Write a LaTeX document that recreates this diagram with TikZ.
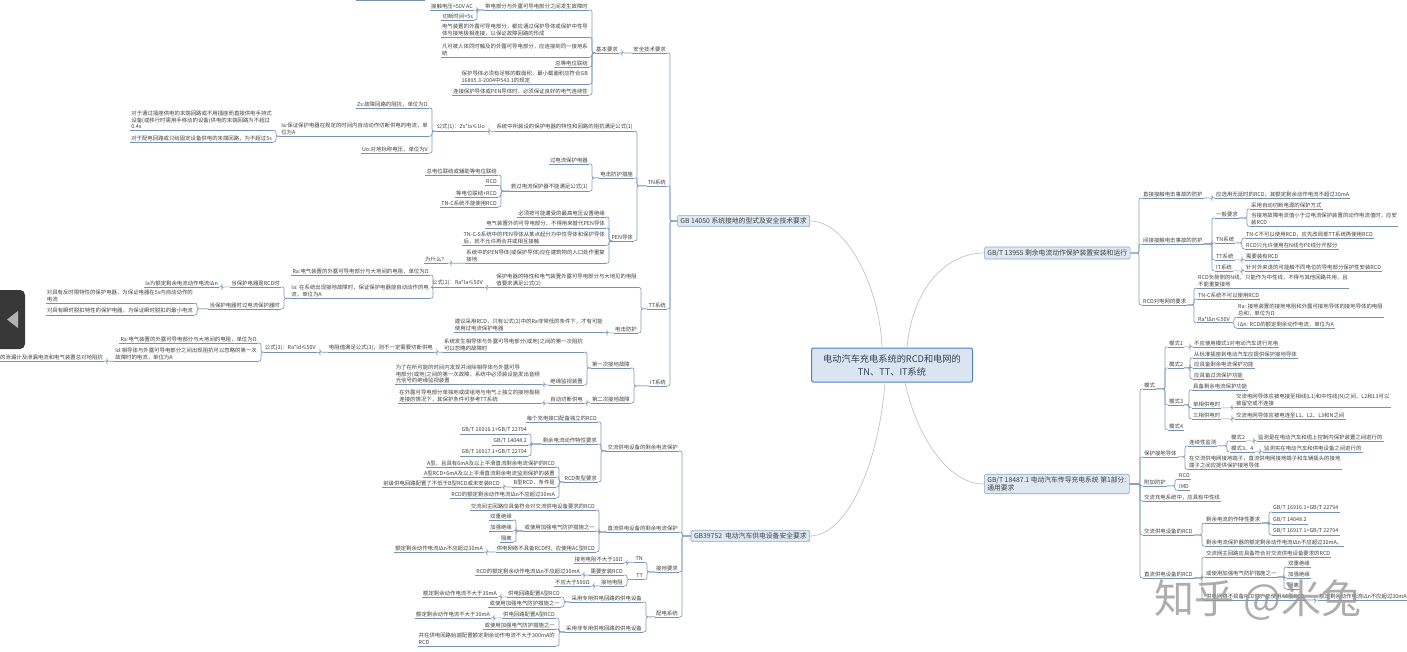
\documentclass[tikz,border=0pt]{standalone}
\usepackage{fontspec}
\setmainfont{Noto Sans CJK SC}
\definecolor{txt}{RGB}{64,64,64}
\definecolor{ul}{RGB}{118,146,176}
\definecolor{cn}{RGB}{130,156,186}
\definecolor{ccur}{RGB}{196,196,196}
\definecolor{bfill}{RGB}{222,231,242}
\definecolor{bdraw}{RGB}{140,170,205}
\definecolor{cfill}{RGB}{219,229,241}
\definecolor{cdraw}{RGB}{79,129,189}
\newcommand\lff{\fontsize{5.4}{6.6}\selectfont}
\tikzset{
  uline/.style={draw=ul,line width=0.7pt},
  lf/.style={font=\lff,text=txt,inner xsep=1pt,inner ysep=1.2pt,align=left,
    append after command={(\tikzlastnode.south west) edge[uline] (\tikzlastnode.south east)}},
  conn/.style={draw=cn,line width=0.7pt,rounded corners=2pt},
  ccurve/.style={draw=ccur,line width=0.7pt},
  mbox/.style={draw=bdraw,fill=bfill,line width=0.6pt,rounded corners=1.5pt,
    font=\fontsize{6.8}{8.2}\selectfont,text=txt,inner xsep=3pt,inner ysep=2.5pt},
  cbox/.style={draw=cdraw,fill=cfill,line width=1pt,rounded corners=2pt,
    font=\fontsize{9.2}{13}\selectfont,text={rgb,255:red,50;green,64;blue,88},align=center,
    minimum width=161pt,minimum height=34pt}
}
\newcommand\Ln[4]{\node[lf,anchor=east] (#1) at (#2,#3) {#4};}
\newcommand\Rn[4]{\node[lf,anchor=west] (#1) at (#2,#3) {#4};}
\newcommand\LL[2]{\foreach \nn in {#2}{\draw[conn] (#1) -| ([xshift=3pt]\nn.south east) -- (\nn.south east);}}
\newcommand\RR[2]{\foreach \nn in {#2}{\draw[conn] (#1) -| ([xshift=-3pt]\nn.south west) -- (\nn.south west);}}
\begin{document}
\begin{tikzpicture}[x=1pt,y=-1pt]
\useasboundingbox (0,0) rectangle (1407,651);
\clip (0,0) rectangle (1407,651);
\fill[white] (0,0) rectangle (1407,651);

% central
\node[cbox] (c0) at (892,365) {电动汽车充电系统的RCD和电网的\\TN、TT、IT系统};
\node[mbox,anchor=east] (g1) at (810,221) {GB 14050 系统接地的型式及安全技术要求};
\node[mbox,anchor=east] (g2) at (810,536) {GB39752\ \ 电动汽车供电设备安全要求};
\node[mbox,anchor=west] (g3) at (984,253) {GB/T 13955 剩余电流动作保护装置安装和运行};
\node[mbox,anchor=west,align=left] (g4) at (984,484) {GB/T 18487.1 电动汽车传导充电系统 第1部分:\\通用要求};
\draw[ccurve] ([xshift=-10pt]c0.north) .. controls (880,290) and (848,221) .. (g1.east);
\draw[ccurve] ([xshift=15pt]c0.north) .. controls (912,290) and (945,253) .. (g3.west);
\draw[ccurve] ([xshift=-7pt]c0.south) .. controls (878,470) and (845,536) .. (g2.east);
\draw[ccurve] ([xshift=13pt]c0.south) .. controls (915,430) and (945,484) .. (g4.west);

% ===== GB 14050 =====
\Ln{a1}{667}{49}{安全技术要求}
\Ln{a2}{667}{182}{TN系统}
\Ln{a3}{667}{305}{TT系统}
\Ln{a4}{667}{382}{IT系统}
\LL{g1.west}{a1,a2,a3,a4}
\Ln{a1a}{619}{49}{基本要求}
\LL{a1.south west}{a1a}
\Ln{b1}{589}{6}{带电部分与外露可导电部分之间发生故障时}
\Ln{b2}{589}{30}{电气装置的外露可导电部分，都应通过保护导体或保护中性导\\体与接地极相连接，以保证故障回路的形成}
\Ln{b3}{589}{50}{凡可被人体同时触及的外露可导电部分，应连接到同一接地系\\统}
\Ln{b4}{589}{63}{总等电位联结}
\Ln{b5}{589}{77}{保护导体必须有足够的截面积，最小截面积应符合GB\\16895.3-2004中543.1的规定}
\Ln{b6}{589}{91}{连接保护导体或PEN导体时，必须保证良好的电气连续性}
\LL{a1a.south west}{b1,b2,b3,b4,b5,b6}
\Ln{b1a}{474}{6}{接触电压<50V AC}
\Ln{b1b}{474}{16}{切断时间<5s}
\LL{b1.south west}{b1a,b1b}
\coordinate (tp) at (425,0.8);
\draw[uline] (356,0.8) -- (tp);

\Ln{c1}{634}{127}{系统中所装设的保护电器的特性和回路的阻抗满足公式(1)}
\Ln{c2}{634}{174}{电击防护措施}
\Ln{c3}{634}{237}{PEN导体}
\LL{a2.south west}{c1,c2,c3}
\Ln{c1a}{486}{127}{公式(1)：Zs*Ia≤Uo}
\LL{c1.south west}{c1a}
\Ln{c1a1}{429}{104}{Zs:故障回路的阻抗，单位为Ω}
\Ln{c1a2}{429}{129}{Ia:保证保护电器在规定的时间内自动动作切断供电的电流，单\\位为A}
\Ln{c1a3}{429}{149}{Uo:对地标称电压，单位为V}
\LL{c1a.south west}{c1a1,c1a2,c1a3}
\Ln{c1a2a}{273}{120}{对于通过插座供电的末端回路或不用插座而直接供电手持式\\设备(或移行时需用手移动的设备)供电的末端回路为不超过\\0.4s}
\Ln{c1a2b}{273}{138}{对于配电回路或只给固定设备供电的末端回路，为不超过5s}
\LL{c1a2.south west}{c1a2a,c1a2b}
\Ln{c2a}{589}{160}{过电流保护电器}
\Ln{c2b}{589}{187}{若过电流保护器不能满足公式(1)}
\LL{c2.south west}{c2a,c2b}
\Ln{c2b1}{498}{171}{总电位联结或辅助等电位联结}
\Ln{c2b2}{498}{182}{RCD}
\Ln{c2b3}{498}{193}{等电位联结+RCD}
\Ln{c2b4}{498}{203}{TN-C系统不能使用RCD}
\LL{c2b.south west}{c2b1,c2b2,c2b3,c2b4}
\Ln{c3a}{606}{213}{必须按可能遭受的最高电压设置绝缘}
\Ln{c3b}{606}{224}{电气装置外的可导电部分，不得用来替代PEN导体}
\Ln{c3c}{606}{238}{TN-C-S系统中的PEN导体从某点起分为中性导体和保护导体\\后，就不允许再合并或相互接触}
\Ln{c3d}{606}{256}{系统中的PEN导体(或保护导体)应在建筑物的入口处作重复\\接地}
\LL{c3.south west}{c3a,c3b,c3c,c3d}
\Ln{c3d1}{448}{259}{为什么？}
\LL{c3d.south west}{c3d1}

\Ln{d1}{638}{280}{保护电器的特性和电气装置外露可导电部分与大地见的电阻\\值要求满足公式(2)}
\Ln{d2}{638}{329}{电击防护}
\LL{a3.south west}{d1,d2}
\Ln{d1a}{484}{283}{公式(2)：Ra*Ia≤50V}
\LL{d1.south west}{d1a}
\Ln{d1a1}{430}{271}{Ra:电气装置的外露可导电部分与大地间的电阻，单位为Ω}
\Ln{d1a2}{430}{291}{Ia: 在系统出现接地故障时，保证保护电器能自动动作的电\\流，单位为A}
\LL{d1a.south west}{d1a1,d1a2}
\Ln{d1a2a}{281}{283}{当保护电器是RCD时}
\Ln{d1a2b}{281}{305}{当保护电器时过电流保护器时}
\LL{d1a2.south west}{d1a2a,d1a2b}
\Ln{d1a2a1}{219}{283}{Ia为额定剩余电流动作电流IΔn}
\LL{d1a2a.south west}{d1a2a1}
\Ln{d1a2b1}{194}{296}{对具有反时限特性的保护电器，为保证电器在5s内自动动作的\\电流}
\Ln{d1a2b2}{194}{311}{对具有瞬时脱扣特性的保护电器，为保证瞬时脱扣的最小电流}
\LL{d1a2b.south west}{d1a2b1,d1a2b2}
\Ln{d2a}{604}{325}{建议采用RCD，只有公式(2)中的Ra非常低的条件下，才有可能\\使用过电流保护电器}
\LL{d2.south west}{d2a}

\Ln{e1}{631}{364}{第一次接地故障}
\Ln{e2}{631}{399}{第二次接地故障}
\LL{a4.south west}{e1,e2}
\Ln{e1a}{584}{345}{系统发生相导体与外露可导电部分(或地)之间的第一次阻抗\\可以忽略的故障时}
\Ln{e1b}{584}{381}{绝缘监视装置}
\LL{e1.south west}{e1a,e1b}
\Ln{e1a1}{434}{348}{电阻值满足公式(3)，则不一定需要切断供电}
\LL{e1a.south west}{e1a1}
\Ln{e1a1a}{317}{348}{公式(3)：Ra*Id≤50V}
\LL{e1a1.south west}{e1a1a}
\Ln{e1a1a1}{258}{339}{Ra:电气装置的外露可导电部分与大地间的电阻，单位为Ω}
\Ln{e1a1a2}{258}{354}{Id:相导体与外露可导电部分之间出现阻抗可以忽略的第一次\\故障时的电流，单位为A}
\LL{e1a1a.south west}{e1a1a1,e1a1a2}
\Ln{e1a1a2a}{104}{357}{Id的泄漏计及泄漏电流和电气装置总对地阻抗}
\LL{e1a1a2.south west}{e1a1a2a}
\Ln{e1b1}{541}{374}{为了在所可能的时间内发现并消除相导体与外露可导\\电部分(或地)之间的第一次故障，系统中必须装设能发出音频\\光信号的绝缘监视装置}
\LL{e1b.south west}{e1b1}
\Ln{e2a}{584}{399}{自动切断供电}
\LL{e2.south west}{e2a}
\Ln{e2a1}{541}{396}{在外露可导电部分单独地或成组地与电气上独立的接地极相\\连接的情况下，其保护条件可参考TT系统}
\LL{e2a.south west}{e2a1}

% ===== GB39752 =====
\Ln{f1}{679}{447}{交流供电设备的剩余电流保护}
\Ln{f2}{679}{528}{直流供电设备的剩余电流保护}
\Ln{f3}{679}{568}{接地要求}
\Ln{f4}{679}{613}{配电系统}
\LL{g2.west}{f1,f2,f3,f4}
\Ln{f1a}{598}{418}{每个充电接口配备独立的RCD}
\Ln{f1b}{598}{440}{剩余电流动作特性要求}
\Ln{f1c}{598}{478}{RCD类型要求}
\LL{f1.south west}{f1a,f1b,f1c}
\Ln{f1b1}{528}{430}{GB/T 16916.1+GB/T 22794}
\Ln{f1b2}{528}{441}{GB/T 14048.2}
\Ln{f1b3}{528}{452}{GB/T 16917.1+GB/T 22794}
\LL{f1b.south west}{f1b1,f1b2,f1b3}
\Ln{f1c1}{556}{463}{A型，且具有6mA及以上平滑直流剩余电流保护的RCD}
\Ln{f1c2}{556}{473}{A型RCD+6mA及以上平滑直流剩余电流监测保护的装置}
\Ln{f1c3}{556}{483}{B型RCD，条件是}
\Ln{f1c4}{556}{494}{RCD的额定剩余动作电流IΔn不应超过30mA}
\LL{f1c.south west}{f1c1,f1c2,f1c3,f1c4}
\Ln{f1c3a}{501}{483}{前级供电回路配置了不低于B型RCD或未安装RCD}
\LL{f1c3.south west}{f1c3a}
\Ln{f2a}{596}{506}{交流间主回路应具备符合对交流供电设备要求的RCD}
\Ln{f2b}{596}{527}{或使用加强电气防护措施之一}
\Ln{f2c}{596}{548}{供电网络不具备RCD时，应使用AC型RCD}
\LL{f2.south west}{f2a,f2b,f2c}
\Ln{f2b1}{513}{516}{双重绝缘}
\Ln{f2b2}{513}{527}{加强绝缘}
\Ln{f2b3}{513}{538}{隔离}
\LL{f2b.south west}{f2b1,f2b2,f2b3}
\Ln{f2c1}{484}{548}{额定剩余动作电流IΔn不应超过30mA}
\LL{f2c.south west}{f2c1}
\Ln{f3a}{644}{559}{TN}
\Ln{f3b}{644}{576}{TT}
\LL{f3.south west}{f3a,f3b}
\Ln{f3a1}{624}{559}{接地电阻不大于10Ω}
\LL{f3a.south west}{f3a1}
\Ln{f3b1}{624}{571}{需要安装RCD}
\Ln{f3b2}{624}{582}{接地电阻}
\LL{f3b.south west}{f3b1,f3b2}
\Ln{f3b1a}{581}{571}{RCD的额定剩余动作电流IΔn不应超过30mA}
\LL{f3b1.south west}{f3b1a}
\Ln{f3b2a}{591}{582}{不应大于500Ω}
\LL{f3b2.south west}{f3b2a}
\Ln{f4a}{643}{598}{采用专用供电回路的供电设备}
\Ln{f4b}{643}{628}{采用非专用供电回路的供电设备}
\LL{f4.south west}{f4a,f4b}
\Ln{f4a1}{561}{593}{供电回路配置A型RCD}
\Ln{f4a2}{561}{603}{或使用加强电气防护措施之一}
\LL{f4a.south west}{f4a1,f4a2}
\Ln{f4a1a}{498}{593}{额定剩余动作电流不大于30mA}
\LL{f4a1.south west}{f4a1a}
\Ln{f4b1}{556}{614}{供电回路配置A型RCD}
\Ln{f4b2}{556}{625}{或使用加强电气防护措施之一}
\Ln{f4b3}{556}{639}{并在供电回路始端配置额定剩余动作电流不大于300mA的\\RCD}
\LL{f4b.south west}{f4b1,f4b2,f4b3}
\Ln{f4b1a}{491}{614}{额定剩余动作电流不大于30mA}
\LL{f4b1.south west}{f4b1a}

% ===== GB/T 13955 =====
\Rn{h1}{1142}{194}{直接接触电击事故的防护}
\Rn{h2}{1142}{240}{间接接触电击事故的防护}
\Rn{h3}{1142}{301}{RCD对电网的要求}
\RR{g3.east}{h1,h2,h3}
\Rn{h1a}{1215}{194}{应选用无延时的RCD，其额定剩余动作电流不超过30mA}
\RR{h1.south east}{h1a}
\Rn{h2a}{1215}{214}{一般要求}
\Rn{h2b}{1215}{239}{TN系统}
\Rn{h2c}{1215}{256}{TT系统}
\Rn{h2d}{1215}{267}{IT系统}
\RR{h2.south east}{h2a,h2b,h2c,h2d}
\Rn{h2a1}{1250}{205}{采用自动切断电源的保护方式}
\Rn{h2a2}{1250}{219}{当接地故障电流值小于过电流保护装置的动作电流值时，应安\\装RCD}
\RR{h2a.south east}{h2a1,h2a2}
\Rn{h2b1}{1245}{234}{TN-C不可以使用RCD，应先改局部TT系统再使用RCD}
\Rn{h2b2}{1245}{245}{RCD只允许使用在N线与PE线分开部分}
\RR{h2b.south east}{h2b1,h2b2}
\Rn{h2c1}{1245}{256}{需要装有RCD}
\RR{h2c.south east}{h2c1}
\Rn{h2d1}{1245}{267}{针对外来进的可能触不同电位的导电部分保护性安装RCD}
\RR{h2d.south east}{h2d1}
\Rn{h3a}{1197}{281}{RCD负荷侧的N线，只能作为中性线，不得与其他回路共用，且\\不能重复接地}
\Rn{h3b}{1197}{295}{TN-C系统不可以使用RCD}
\Rn{h3c}{1197}{319}{Ra*IΔn≤50V}
\RR{h3.south east}{h3a,h3b,h3c}
\Rn{h3c1}{1237}{310}{Ra: 接地装置的接地电阻和外露可接地导体的接地导体的电阻\\总和，单位为Ω}
\Rn{h3c2}{1237}{324}{IΔn: RCD的额定剩余动作电流，单位为A}
\RR{h3c.south east}{h3c1,h3c2}

% ===== GB/T 18487.1 =====
\Rn{i1}{1143}{385}{模式}
\Rn{i2}{1143}{453}{保护接地导体}
\Rn{i3}{1143}{482}{附加防护}
\Rn{i4}{1143}{497}{交流充电系统中，应具有中性线}
\Rn{i5}{1143}{531}{交流供电设备的RCD}
\Rn{i6}{1143}{574}{直流供电设备的RCD}
\RR{g4.east}{i1,i2,i3,i4,i5,i6}
\Rn{i1a}{1168}{343}{模式1}
\Rn{i1b}{1168}{364}{模式2}
\Rn{i1c}{1168}{401}{模式3}
\Rn{i1d}{1168}{426}{模式4}
\RR{i1.south east}{i1a,i1b,i1c,i1d}
\Rn{i1a1}{1193}{343}{不应使用模式1对电动汽车进行充电}
\RR{i1a.south east}{i1a1}
\Rn{i1b1}{1193}{354}{从标准插座到电动汽车应提供保护接地导体}
\Rn{i1b2}{1193}{364}{应具备剩余电流保护功能}
\Rn{i1b3}{1193}{375}{应具备过流保护功能}
\RR{i1b.south east}{i1b1,i1b2,i1b3}
\Rn{i1c1}{1192}{386}{具备剩余电流保护功能}
\Rn{i1c2}{1192}{404}{单相供电时}
\Rn{i1c3}{1192}{415}{三相供电时}
\RR{i1c.south east}{i1c1,i1c2,i1c3}
\Rn{i1c2a}{1235}{400}{交流电网导体应被电接至相线(L1)和中性线(N)之间，L2和L3可以\\被留空或不连接}
\RR{i1c2.south east}{i1c2a}
\Rn{i1c3a}{1235}{415}{交流电网导体应被电连至L1、L2、L3和N之间}
\RR{i1c3.south east}{i1c3a}
\Rn{i2a}{1188}{442}{连续性监测}
\Rn{i2b}{1188}{462}{在交流供电网接地端子，直流供电网接地端子和车辆插头的接地\\端子之间应提供保护接地导体}
\RR{i2.south east}{i2a,i2b}
\Rn{i2a1}{1230}{437}{模式2}
\Rn{i2a2}{1230}{448}{模式3、4}
\RR{i2a.south east}{i2a1,i2a2}
\Rn{i2a1a}{1257}{437}{监测是在电动汽车和缆上控制内保护装置之间进行的}
\RR{i2a1.south east}{i2a1a}
\Rn{i2a2a}{1263}{448}{监测实在电动汽车和供电设备之间进行的}
\RR{i2a2.south east}{i2a2a}
\Rn{i3a}{1178}{476}{RCD}
\Rn{i3b}{1178}{487}{IMD}
\RR{i3.south east}{i3a,i3b}
\Rn{i5a}{1205}{519}{剩余电流的作特性要求}
\Rn{i5b}{1205}{542}{剩余电流保护器的额定剩余动作电流IΔn不应超过30mA。}
\RR{i5.south east}{i5a,i5b}
\Rn{i5a1}{1272}{508}{GB/T 16916.1+GB/T 22794}
\Rn{i5a2}{1272}{520}{GB/T 14048.2}
\Rn{i5a3}{1272}{531}{GB/T 16917.1+GB/T 22794}
\RR{i5a.south east}{i5a1,i5a2,i5a3}
\Rn{i6a}{1205}{553}{交流网主回路应具备符合对交流供电设备要求的RCD}
\Rn{i6b}{1205}{573}{或使用加强电气防护措施之一}
\Rn{i6c}{1205}{596}{供电网络不具备RCD时，应使用AC型RCD}
\RR{i6.south east}{i6a,i6b,i6c}
\Rn{i6b1}{1287}{563}{双重绝缘}
\Rn{i6b2}{1287}{574}{加强绝缘}
\Rn{i6b3}{1287}{585}{隔离}
\RR{i6b.south east}{i6b1,i6b2,i6b3}
\Rn{i6c1}{1318}{596}{额定剩余动作电流IΔn不应超过30mA}
\RR{i6c.south east}{i6c1}

% watermark and overlay
\node[font=\fontsize{40}{40}\selectfont,text=black!40,opacity=0.8] (wm) at (1258,600) {知乎 @米兔};
\fill[black!78,rounded corners=5pt] (-8,290) rectangle (25,349);
\fill[black!30] (7,319.5) -- (18,311) -- (18,328) -- cycle;
\end{tikzpicture}
\end{document}
